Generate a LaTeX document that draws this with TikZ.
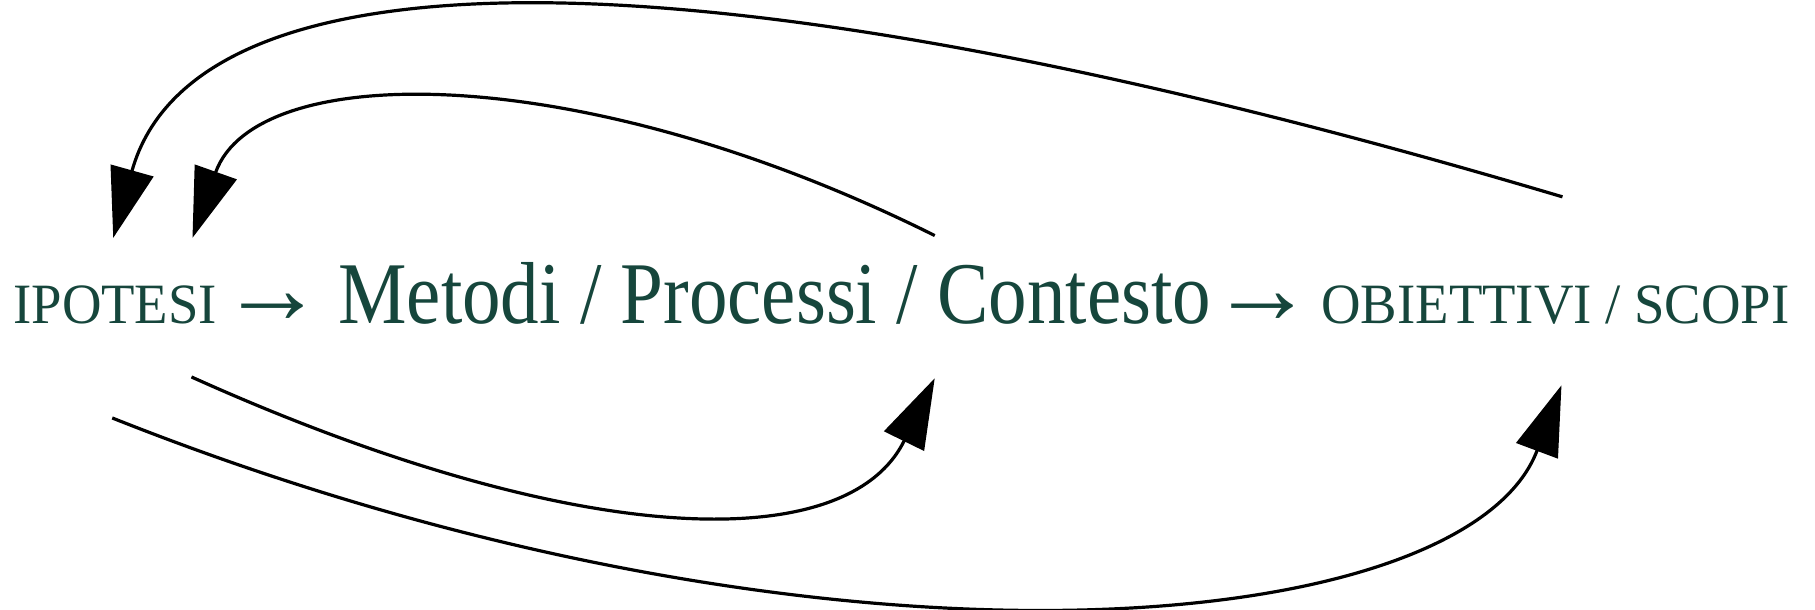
\documentclass[tikz,border=0pt]{standalone}
\usepackage{fontspec}
\setmainfont{Liberation Serif}
\usetikzlibrary{arrows.meta,positioning}
\definecolor{textteal}{RGB}{22,70,60}

\begin{document}
\begin{tikzpicture}[x=0.5pt,y=-0.5pt,
    txt/.style={inner sep=0pt, anchor=base west, text=textteal},
    smalltext/.style={txt, font=\fontsize{28.5}{34}\selectfont},
    bigtext/.style={txt, font=\fontsize{44}{52}\selectfont},
    arrowtext/.style={txt, font=\fontsize{52}{56}\selectfont},
    feedback/.style={line width=1.6pt, -{Triangle[length=35pt,width=22pt]}}]
  \useasboundingbox (0,0) rectangle (1815,610);
  % text line
  \node[smalltext] (ipotesi) at (13,323) {\scalebox{0.96}[1]{IPOTESI}};
  \node[arrowtext] (to1) at (220,323) {→};
  \node[bigtext] (metodi) at (338,323) {\scalebox{0.875}[1]{Metodi / Processi / Contesto}};
  \node[arrowtext] (to2) at (1210,323) {→};
  \node[smalltext] (obiettivi) at (1321,323) {\scalebox{0.96}[1]{OBIETTIVI / SCOPI}};
  % arcs back to the hypotheses
  \draw[feedback] ([shift={(7,-88)}]obiettivi.north)
    .. controls +(-863,-257) and +(82,-293) .. ([shift={(-2,-47)}]ipotesi.north);
  \draw[feedback] ([shift={(160,-26)}]metodi.north)
    .. controls +(-355,-177) and +(63,-178) .. ([shift={(-25,-47)}]ipotesi.north east);
  % arcs forward from the hypotheses
  \draw[feedback] ([shift={(-26,53)}]ipotesi.south east)
    .. controls +(382,172) and +(-88,180) .. ([shift={(160,54)}]metodi.south);
  \draw[feedback] ([shift={(-3,94)}]ipotesi.south)
    .. controls +(707,281) and +(-95,254) .. ([shift={(6,61)}]obiettivi.south);
\end{tikzpicture}
\end{document}
